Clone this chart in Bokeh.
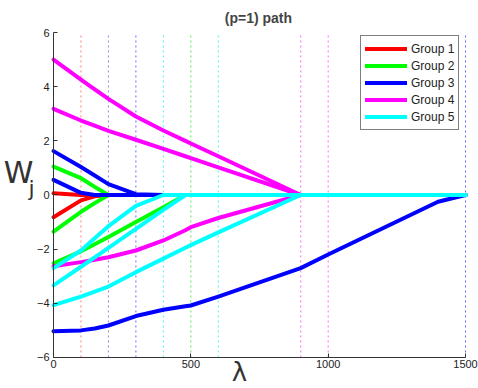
from bokeh.plotting import figure
from bokeh.models import (Range1d, FixedTicker, Label, Legend, LegendItem,
                          LinearAxis, ColumnDataSource)
from bokeh.embed import file_html
from bokeh.resources import INLINE

# ---- data ----
lam = [0, 100, 150, 200, 300, 400, 480, 500, 600, 900, 1000, 1400, 1500]

g1 = [
    [0.06, 0, 0, 0, 0, 0, 0, 0, 0, 0, 0, 0, 0],
    [-0.82, -0.2, -0.05, 0, 0, 0, 0, 0, 0, 0, 0, 0, 0],
]
g2 = [
    [1.05, 0.62, 0.3, 0, 0, 0, 0, 0, 0, 0, 0, 0, 0],
    [-1.35, -0.62, -0.3, 0, 0, 0, 0, 0, 0, 0, 0, 0, 0],
    [-2.52, -2.08, -1.82, -1.55, -1.0, -0.45, 0, 0, 0, 0, 0, 0, 0],
]
g3 = [
    [1.62, 1.03, 0.72, 0.4, 0.03, 0, 0, 0, 0, 0, 0, 0, 0],
    [0.56, 0.08, 0, 0, 0, 0, 0, 0, 0, 0, 0, 0, 0],
    [-5.03, -5.0, -4.93, -4.82, -4.47, -4.24, -4.11, -4.08, -3.75, -2.7, -2.2, -0.25, 0],
]
g4 = [
    [5.0, 4.26, 3.9, 3.55, 2.9, 2.38, 2.0, 1.9, 1.43, 0, 0, 0, 0],
    [3.18, 2.75, 2.56, 2.37, 2.04, 1.7, 1.43, 1.36, 1.02, 0, 0, 0, 0],
    [-2.63, -2.48, -2.39, -2.3, -2.05, -1.68, -1.3, -1.19, -0.85, 0, 0, 0, 0],
]
g5 = [
    [-2.7, -2.05, -1.6, -1.15, -0.4, 0, 0, 0, 0, 0, 0, 0, 0],
    [-3.34, -2.65, -2.3, -1.95, -1.25, -0.55, 0, 0, 0, 0, 0, 0, 0],
    [-4.07, -3.75, -3.57, -3.38, -2.85, -2.35, -1.95, -1.85, -1.38, 0, 0, 0, 0],
]
groups = ["Group 1", "Group 2", "Group 3", "Group 4", "Group 5"]
group_colors = ["#ff0000", "#00ff00", "#0000ff", "#ff00ff", "#00ffff"]

knots = [100, 200, 300, 400, 500, 600, 900, 1000, 1500]
knot_colors = ["#ff6060", "#8060e0", "#4040ff", "#20f0f0", "#30e030",
               "#20f0f0", "#ff40ff", "#ff40ff", "#4040ff"]

x_lim = (0, 1500)
y_lim = (-6, 6)
x_ticks = [0, 500, 1000, 1500]
y_ticks = [-6, -4, -2, 0, 2, 4, 6]

FONT = "Liberation Sans"

# frame covers the whole canvas; axes are drawn at fixed locations
p = figure(width=478, height=388, output_backend="svg", toolbar_location=None,
           x_range=Range1d(-192.96, 1547.3), y_range=Range1d(-7.146, 7.182),
           x_axis_location=None, y_axis_location=None,
           min_border=0)
p.outline_line_color = None
p.background_fill_color = "white"
p.border_fill_color = "white"
for g in p.grid:
    g.visible = False

xaxis = LinearAxis(fixed_location=y_lim[0], bounds=x_lim,
                   ticker=FixedTicker(ticks=x_ticks))
yaxis = LinearAxis(fixed_location=x_lim[0], bounds=y_lim,
                   ticker=FixedTicker(ticks=y_ticks))
for ax in (xaxis, yaxis):
    ax.axis_line_color = "#333333"
    ax.major_tick_line_color = "#333333"
    ax.major_tick_in = 4
    ax.major_tick_out = 0
    ax.minor_tick_line_color = None
    ax.major_label_text_font = FONT
    ax.major_label_text_font_size = "11px"
    ax.major_label_text_color = "#222222"
xaxis.major_label_standoff = 3
yaxis.major_label_standoff = 4
p.add_layout(xaxis, "below")
p.add_layout(yaxis, "left")

# dotted knot lines
ksrc = ColumnDataSource(dict(x=knots, c=knot_colors))
p.segment(x0="x", y0=y_lim[0], x1="x", y1=y_lim[1], source=ksrc,
          line_color="c", line_width=1, line_dash="2 3", line_alpha=0.8)

items = []
for name, col, grp in zip(groups, group_colors, [g1, g2, g3, g4, g5]):
    r = p.multi_line(xs=[lam] * len(grp), ys=grp, line_color=col, line_width=4,
                     line_join="round", line_cap="round")
    items.append(LegendItem(label=name, renderers=[r]))

legend = Legend(items=items, location=(360, 258))
legend.label_text_font = FONT
legend.label_text_font_size = "12px"
legend.label_text_color = "#222222"
legend.border_line_color = "black"
legend.border_line_width = 1
legend.padding = 4
legend.spacing = 0
legend.margin = 0
legend.glyph_width = 42
legend.glyph_height = 17
legend.label_height = 17
legend.label_standoff = 4
legend.background_fill_alpha = 1
p.add_layout(legend, "center")

# title and axis labels
p.add_layout(Label(x=746, y=6.52, text="(p=1) path", text_font=FONT,
                   text_font_size="14px", text_font_style="bold",
                   text_align="center", text_baseline="middle"))
p.add_layout(Label(x=-127, y=0.83, text="W", text_font="DejaVu Sans",
                   text_font_size="30px", text_align="center",
                   text_baseline="middle", text_color="#333333"))
p.add_layout(Label(x=-80, y=0.25, text="j", text_font="DejaVu Sans",
                   text_font_size="22px", text_align="center",
                   text_baseline="middle", text_color="#333333"))
p.add_layout(Label(x=677, y=-7.1, text="λ", text_font="DejaVu Sans",
                   text_font_size="26px", text_align="center",
                   text_baseline="bottom", text_color="#333333"))

open("out.html", "w").write(file_html(p, INLINE))
